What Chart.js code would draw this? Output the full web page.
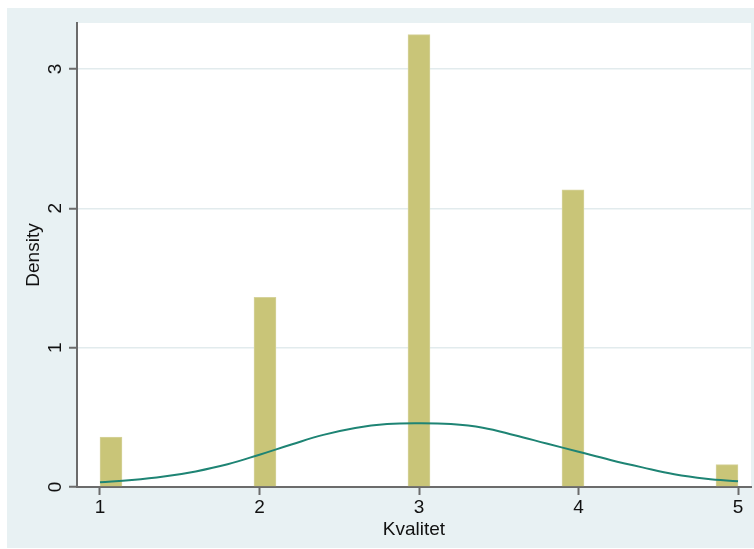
<!DOCTYPE html>
<html>
<head>
<meta charset="utf-8">
<title>Kvalitet – histogram</title>
<script src="https://cdn.jsdelivr.net/npm/chart.js@4"></script>
<style>
  html, body { margin: 0; padding: 0; background: #ffffff; }
  #frame { position: absolute; left: 7px; top: 8px; width: 747px; height: 540px; background: #e8f1f3; }
  #chart { display: block; }
</style>
</head>
<body>
<div id="frame"><canvas id="chart" width="747" height="540"></canvas></div>
<script>
// Quality levels and histogram densities
const categories = [1, 2, 3, 4, 5];
const densities = [0.359, 1.362, 3.246, 2.133, 0.161];
const binCount = 29;                 // bins over the range [1, 5]
const xTickLabels = ['1', '2', '3', '4', '5'];
const yTickLabels = ['0', '1', '2', '3'];

// Normal density overlay
const curveX = [1.0, 1.2, 1.4, 1.6, 1.8, 2.0, 2.2, 2.4, 2.6, 2.8, 3.0, 3.2, 3.4, 3.6, 3.8, 4.0, 4.2, 4.4, 4.6, 4.8, 5.0];
const curveY = [0.034, 0.050, 0.075, 0.112, 0.163, 0.232, 0.305, 0.374, 0.424, 0.452, 0.458, 0.452, 0.426, 0.372, 0.312, 0.253, 0.194, 0.141, 0.092, 0.060, 0.041];

const lo = categories[0], hi = categories[categories.length - 1];
const binW = (hi - lo) / binCount;
const binCenter = v => {
  const k = Math.min(binCount - 1, Math.floor((v - lo) / binW + 1e-9));
  return lo + (k + 0.5) * binW;
};

const barData = categories.map((c, i) => ({ x: binCenter(c), y: densities[i] }));
const lineData = curveX.map((x, i) => ({ x, y: curveY[i] }));

const FONT = '"Liberation Sans", Arial, Helvetica, sans-serif';
const ink = '#111111';
const axisGray = '#6b6b6b';

// White plotting region inside the tinted frame
const plotBg = {
  id: 'plotBg',
  beforeDraw(chart) {
    const { ctx, chartArea: a } = chart;
    ctx.save();
    ctx.fillStyle = '#ffffff';
    ctx.fillRect(a.left, a.top, a.right - a.left, a.bottom - a.top);
    ctx.restore();
  }
};

new Chart(document.getElementById('chart'), {
  data: {
    datasets: [
      {
        type: 'line',
        data: lineData,
        borderColor: '#1e8474',
        borderWidth: 2,
        pointRadius: 0,
        tension: 0.4,
        fill: false,
        order: 0
      },
      {
        type: 'bar',
        data: barData,
        backgroundColor: '#c9c578',
        borderColor: '#d6d39c',
        borderWidth: 1,
        barThickness: ctx => {
          const s = ctx.chart.scales.x;
          return Math.abs(s.getPixelForValue(lo + binW) - s.getPixelForValue(lo));
        },
        grouped: false,
        order: 1
      }
    ]
  },
  plugins: [plotBg],
  options: {
    responsive: false,
    animation: false,
    devicePixelRatio: 1,
    layout: { padding: { left: 0, top: 15, right: 3, bottom: 0 } },
    plugins: { legend: { display: false }, tooltip: { enabled: false } },
    scales: {
      x: {
        type: 'linear',
        offset: false,
        min: 0.8558,
        max: 5.0815,
        afterFit: s => { s.height = 61; s.paddingLeft = 0; s.paddingRight = 0; },
        ticks: {
          stepSize: 1,
          includeBounds: false,
          padding: 1,
          color: ink,
          font: { family: FONT, size: 19 },
          callback: v => xTickLabels[categories.indexOf(v)] ?? ''
        },
        grid: { offset: false, drawOnChartArea: false, color: 'transparent', tickColor: axisGray, tickLength: 8, tickWidth: 2 },
        border: { color: axisGray, width: 2 },
        title: { display: true, text: 'Kvalitet', color: ink, font: { family: FONT, size: 19 }, padding: { top: 0, bottom: 7 } }
      },
      y: {
        type: 'linear',
        min: 0,
        max: 3.33,
        afterFit: s => { s.width = 70; s.paddingTop = 0; s.paddingBottom = 0; },
        ticks: {
          stepSize: 1,
          includeBounds: false,
          minRotation: 90,
          maxRotation: 90,
          crossAlign: 'center',
          padding: 8,
          color: ink,
          font: { family: FONT, size: 19 },
          callback: v => yTickLabels[v] ?? ''
        },
        grid: {
          color: c => (c.tick && c.tick.value === 0) ? 'rgba(0,0,0,0)' : '#e2ebed',
          lineWidth: 1.5,
          tickColor: axisGray,
          tickLength: 8,
          tickWidth: 2
        },
        border: { color: axisGray, width: 2 },
        title: { display: true, text: 'Density', color: ink, font: { family: FONT, size: 19 }, padding: { top: 15, bottom: 0 } }
      }
    }
  }
});
</script>
</body>
</html>
